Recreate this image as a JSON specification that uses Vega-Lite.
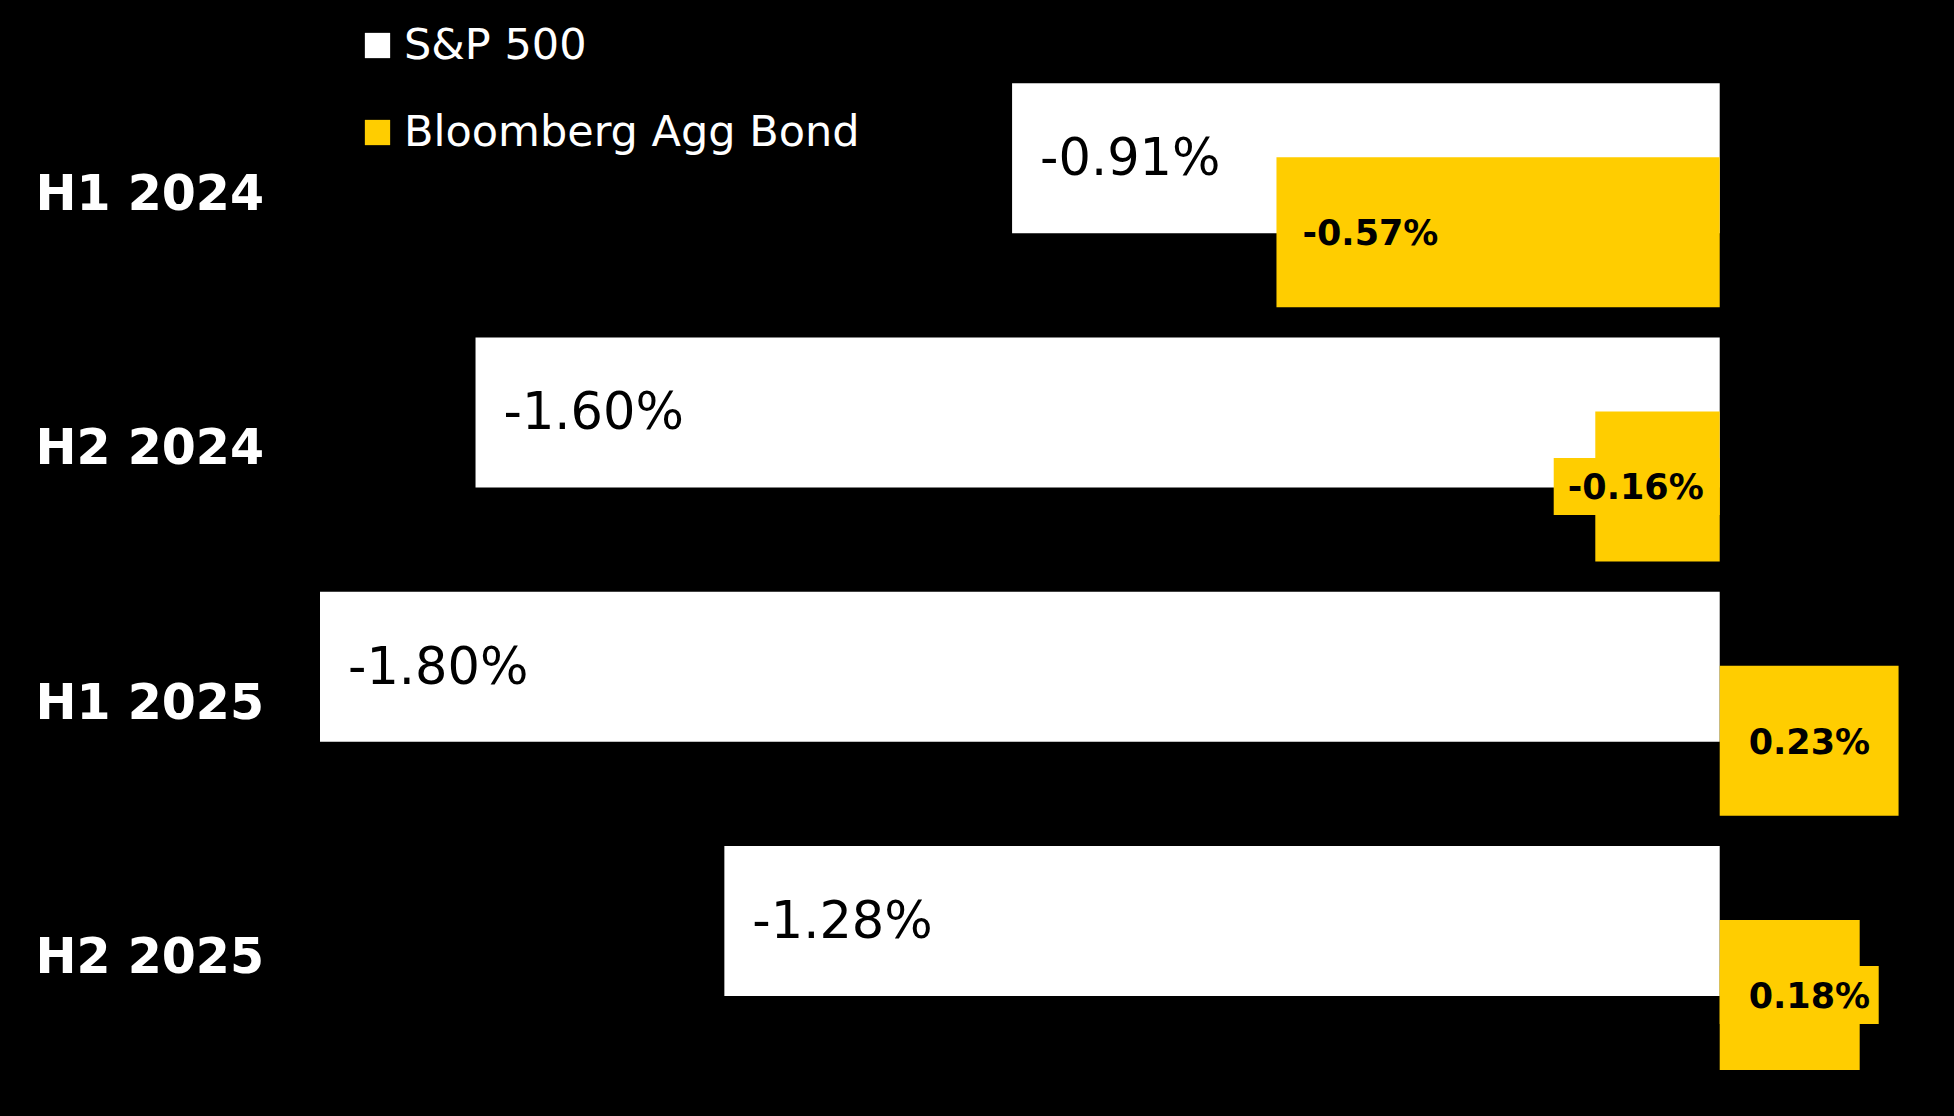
{
  "$schema": "https://vega.github.io/schema/vega-lite/v6.json",
  "autosize": {"type": "none"},
  "width": 1633,
  "height": 1017,
  "padding": {"left": 320, "top": 68, "right": 1, "bottom": 31},
  "background": "#000000",
  "config": {
    "font": "DejaVu Sans",
    "view": {"stroke": null}
  },
  "data": {
    "values": [
      {"period": "H1 2024", "series": "S&P 500", "value": -0.91, "label": "-0.91%"},
      {"period": "H1 2024", "series": "Bloomberg Agg Bond", "value": -0.57, "label": "-0.57%"},
      {"period": "H2 2024", "series": "S&P 500", "value": -1.60, "label": "-1.60%"},
      {"period": "H2 2024", "series": "Bloomberg Agg Bond", "value": -0.16, "label": "-0.16%"},
      {"period": "H1 2025", "series": "S&P 500", "value": -1.80, "label": "-1.80%"},
      {"period": "H1 2025", "series": "Bloomberg Agg Bond", "value": 0.23, "label": "0.23%"},
      {"period": "H2 2025", "series": "S&P 500", "value": -1.28, "label": "-1.28%"},
      {"period": "H2 2025", "series": "Bloomberg Agg Bond", "value": 0.18, "label": "0.18%"}
    ]
  },
  "encoding": {
    "y": {
      "field": "period",
      "type": "nominal",
      "sort": ["H1 2024", "H2 2024", "H1 2025", "H2 2025"],
      "scale": {"paddingInner": 0.119, "paddingOuter": 0.0595},
      "axis": {
        "title": null,
        "domain": false,
        "ticks": false,
        "tickSize": 0,
        "labelAlign": "left",
        "labelPadding": 285,
        "labelLimit": 500,
        "labelFont": "DejaVu Sans",
        "labelFontWeight": "bold",
        "labelFontSize": 49,
        "labelColor": "#FFFFFF",
        "labelBaseline": "middle"
      }
    }
  },
  "layer": [
    {
      "transform": [{"filter": "datum.series === 'S&P 500'"}],
      "mark": {"type": "bar", "size": 150, "yOffset": -37},
      "encoding": {
        "x": {"field": "value", "type": "quantitative", "scale": {"domain": [-1.8, 0.3], "nice": false, "zero": false}, "axis": null},
        "x2": {"datum": 0},
        "color": {
          "field": "series",
          "type": "nominal",
          "scale": {"domain": ["S&P 500", "Bloomberg Agg Bond"], "range": ["#FFFFFF", "#FFCD00"]},
          "legend": {
            "title": null,
            "orient": "none",
            "legendX": 36,
            "legendY": -44,
            "symbolType": "square",
            "symbolSize": 640,
            "symbolStrokeWidth": 0,
            "labelFontSize": 43,
            "labelFont": "DejaVu Sans",
            "labelColor": "#FFFFFF",
            "labelOffset": 5,
            "rowPadding": 43,
            "labelLimit": 600
          }
        }
      }
    },
    {
      "transform": [{"filter": "datum.series === 'Bloomberg Agg Bond'"}],
      "mark": {"type": "bar", "size": 150, "yOffset": 37},
      "encoding": {
        "x": {"field": "value", "type": "quantitative"},
        "x2": {"datum": 0},
        "color": {"field": "series", "type": "nominal"}
      }
    },
    {
      "transform": [{"filter": "datum.series === 'Bloomberg Agg Bond' && datum.value < 0 && datum.value > -0.3"}],
      "mark": {"type": "bar", "size": 57, "yOffset": 37, "xOffset": -166, "color": "#FFCD00"},
      "encoding": {
        "x": {"datum": 0, "type": "quantitative"},
        "x2": {"datum": 0}
      }
    },
    {
      "transform": [{"filter": "datum.series === 'Bloomberg Agg Bond' && datum.value > 0 && datum.value < 0.2"}],
      "mark": {"type": "bar", "size": 58, "yOffset": 37, "x2Offset": 159, "color": "#FFCD00"},
      "encoding": {
        "x": {"datum": 0, "type": "quantitative"},
        "x2": {"datum": 0}
      }
    },
    {
      "transform": [{"filter": "datum.series === 'S&P 500'"}],
      "mark": {"type": "text", "align": "left", "baseline": "middle", "dx": 28, "yOffset": -35, "fontSize": 51, "color": "#000000"},
      "encoding": {
        "x": {"field": "value", "type": "quantitative"},
        "text": {"field": "label"}
      }
    },
    {
      "transform": [{"filter": "datum.series === 'Bloomberg Agg Bond' && datum.value <= -0.3"}],
      "mark": {"type": "text", "align": "left", "baseline": "middle", "dx": 26, "yOffset": 39, "fontSize": 35, "fontWeight": "bold", "color": "#000000"},
      "encoding": {
        "x": {"field": "value", "type": "quantitative"},
        "text": {"field": "label"}
      }
    },
    {
      "transform": [{"filter": "datum.series === 'Bloomberg Agg Bond' && datum.value >= 0"}],
      "mark": {"type": "text", "align": "left", "baseline": "middle", "dx": 29, "yOffset": 39, "fontSize": 35, "fontWeight": "bold", "color": "#000000"},
      "encoding": {
        "x": {"datum": 0, "type": "quantitative"},
        "text": {"field": "label"}
      }
    },
    {
      "transform": [{"filter": "datum.series === 'Bloomberg Agg Bond' && datum.value < 0 && datum.value > -0.3"}],
      "mark": {"type": "text", "align": "right", "baseline": "middle", "dx": -16, "yOffset": 39, "fontSize": 35, "fontWeight": "bold", "color": "#000000"},
      "encoding": {
        "x": {"datum": 0, "type": "quantitative"},
        "text": {"field": "label"}
      }
    }
  ]
}
